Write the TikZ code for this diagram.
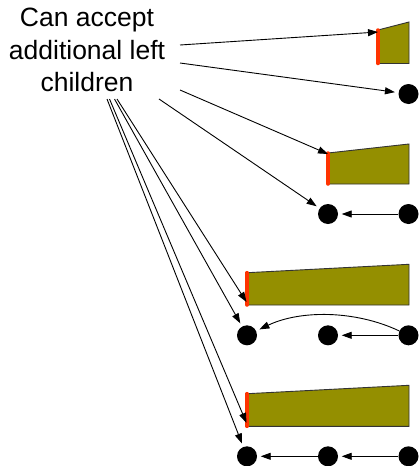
\documentclass[tikz,border=0pt]{standalone}
\usepackage{fontspec}
\setmainfont{Liberation Sans}
\usetikzlibrary{arrows.meta}
\definecolor{olivefill}{RGB}{148,143,0}
\definecolor{edgered}{RGB}{255,51,0}
\begin{document}
\begin{tikzpicture}[x=1pt,y=-1pt,
  dot/.style={circle,fill=black,minimum size=20pt,inner sep=0pt},
  arr/.style={-{Triangle[length=10pt,width=7pt]},line width=0.9pt},
  tocirc/.style={arr,shorten >=3.5pt},
  trap/.style={fill=olivefill,draw=black!80,line width=0.9pt},
  redge/.style={draw=edgered,line width=3.5pt,line cap=round},
  lbl/.style={font=\fontsize{26.5}{32.5}\selectfont,align=center,inner sep=0pt}]
\useasboundingbox (0,0) rectangle (419,466);

% label (base anchor = baseline of the last line)
\node[lbl,anchor=base] (txt) at (87,91.7) {Can accept\\additional left\\children};

% start points of the connectors
\coordinate (s1) at (180,45);
\coordinate (s2) at (180,63);
\coordinate (s3) at (180,90);
\coordinate (s4) at (159,99);
\coordinate (s5) at (117,99);
\coordinate (s6) at (114.5,99);
\coordinate (s7) at (109.5,99);
\coordinate (s8) at (107,99);

% trapezoids
\draw[trap] (378,30) -- (409,22) -- (409,63.5) -- (378,63.5) -- cycle;
\draw[redge] (378,30) -- (378,63.5);
\coordinate (t1) at (378,32);

\draw[trap] (328,153) -- (409,144) -- (409,184) -- (328,184) -- cycle;
\draw[redge] (328,153) -- (328,184);
\coordinate (t2) at (328,154);

\draw[trap] (247,272.7) -- (409,264.3) -- (409,305) -- (247,305) -- cycle;
\draw[redge] (247,272.7) -- (247,305);
\coordinate (t3) at (246.5,302);

\draw[trap] (247,393.7) -- (409,385.3) -- (409,426.3) -- (247,426.3) -- cycle;
\draw[redge] (247,393.7) -- (247,426.3);
\coordinate (t4) at (246.5,423);

% circles
\node[dot] (c1) at (408.5,94) {};
\node[dot] (c21) at (328,214) {};
\node[dot] (c22) at (408.5,214) {};
\node[dot] (c31) at (247,335.3) {};
\node[dot] (c32) at (328,335.3) {};
\node[dot] (c33) at (408.5,335.3) {};
\node[dot] (c41) at (247,456.3) {};
\node[dot] (c42) at (328,456.3) {};
\node[dot] (c43) at (408.5,456.3) {};

% connectors between circles
\draw[tocirc] (c22) -- (c21);
\draw[tocirc] (c33) -- (c32);
\draw[tocirc] (c33) .. controls (355,310) and (300,310) .. (c31);
\draw[tocirc] (c43) -- (c42);
\draw[tocirc] (c42) -- (c41);

% connectors from the label
\draw[arr] (s1) -- (t1);
\draw[tocirc] (s2) -- (c1);
\draw[arr] (s3) -- (t2);
\draw[tocirc] (s4) -- (c21);
\draw[arr] (s5) -- (t3);
\draw[tocirc] (s6) -- (c31);
\draw[arr] (s7) -- (t4);
\draw[tocirc] (s8) -- (c41);
\end{tikzpicture}
\end{document}
